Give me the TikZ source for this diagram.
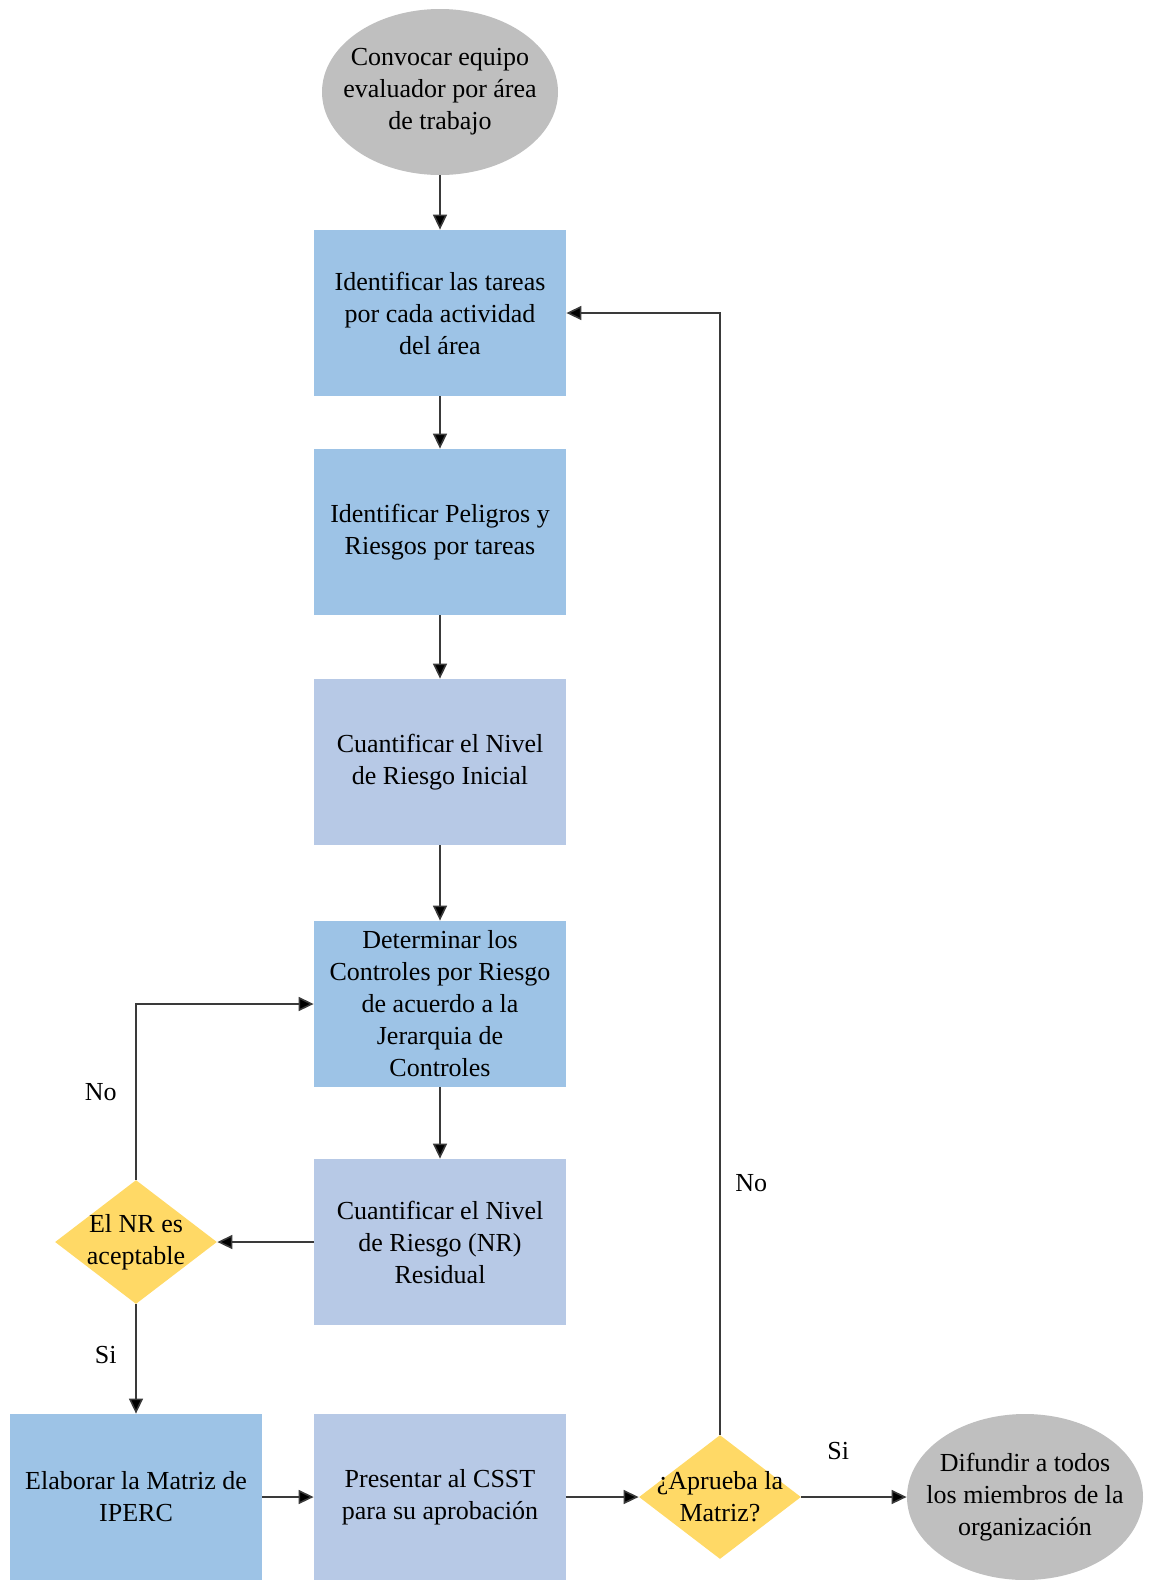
\documentclass[tikz,border=0pt]{standalone}
\usepackage{fontspec}
\setmainfont{Liberation Serif}
\usetikzlibrary{shapes.geometric,arrows.meta}
\definecolor{boxblue}{HTML}{9DC3E6}
\definecolor{boxlight}{HTML}{B7C9E6}
\definecolor{decyellow}{HTML}{FFD966}
\definecolor{termgray}{HTML}{BFBFBF}
\definecolor{linegray}{HTML}{3A3A3A}

\begin{document}
\begin{tikzpicture}[x=0.5pt,y=-0.5pt,
  font=\fontsize{13}{16}\selectfont,
  stepbox/.style={rectangle,fill=boxblue,minimum width=126pt,minimum height=83pt,inner sep=0pt,align=center},
  lightbox/.style={stepbox,fill=boxlight},
  terminal/.style={ellipse,fill=termgray,minimum width=118pt,minimum height=83pt},
  decision/.style={diamond,fill=decyellow,minimum width=81pt,minimum height=62pt,inner sep=0pt},
  flow/.style={-{Triangle[length=7.5pt,width=7pt,fill=black]},draw=linegray,line width=0.8pt},
]
\useasboundingbox (0,0) rectangle (1149,1580);

%Start
\node[terminal,
label={[align=center]center:Convocar equipo\\evaluador por área\\de trabajo}
] (conv) at (440,92){};

%Tareas
\node[stepbox] (tareas) at (440,313){Identificar las tareas\\por cada actividad\\del área};

%Peligros
\node[stepbox] (peligros) at (440,532){Identificar Peligros y\\Riesgos por tareas};

%Riesgo inicial
\node[lightbox] (inicial) at (440,762){Cuantificar el Nivel\\de Riesgo Inicial};

%Controles
\node[stepbox] (controles) at (440,1004){Determinar los\\Controles por Riesgo\\de acuerdo a la\\Jerarquia de\\Controles};

%Riesgo residual
\node[lightbox] (residual) at (440,1242){Cuantificar el Nivel\\de Riesgo (NR)\\Residual};

%Decision NR
\node[decision,
label={[align=center]center:El NR es\\aceptable}
] (nr) at (136,1242){};

%Matriz
\node[stepbox] (matriz) at (136,1497){Elaborar la Matriz de\\IPERC};

%CSST
\node[lightbox] (csst) at (440,1497){Presentar al CSST\\para su aprobación};

%Decision aprueba
\node[decision,
label={[align=center]center:¿Aprueba la\\Matriz?}
] (aprueba) at (720,1497){};

%End
\node[terminal,
label={[align=center]center:Difundir a todos\\los miembros de la\\organización}
] (difundir) at (1025,1497){};


\draw[flow] (conv) -- (tareas);
\draw[flow] (tareas) -- (peligros);
\draw[flow] (peligros) -- (inicial);
\draw[flow] (inicial) -- (controles);
\draw[flow] (controles) -- (residual);
\draw[flow] (residual.west) -- (nr.east);
\draw[flow] (nr.north) |- (controles.west) node [pos=0.25, left=6pt] (nrno) {No};
\draw[flow] (nr.south) -- (matriz.north) node [pos=0.46, left=6pt] (nrsi) {Si};
\draw[flow] (matriz.east) -- (csst.west);
\draw[flow] (csst.east) -- (aprueba.west);
\draw[flow] (aprueba.east) -- (difundir.west) node [pos=0.35, above=15pt] (apsi) {Si};
\draw[flow] (aprueba.north) |- (tareas.east) node [pos=0.112, right=4pt] (apno) {No};

\end{tikzpicture}
\end{document}
